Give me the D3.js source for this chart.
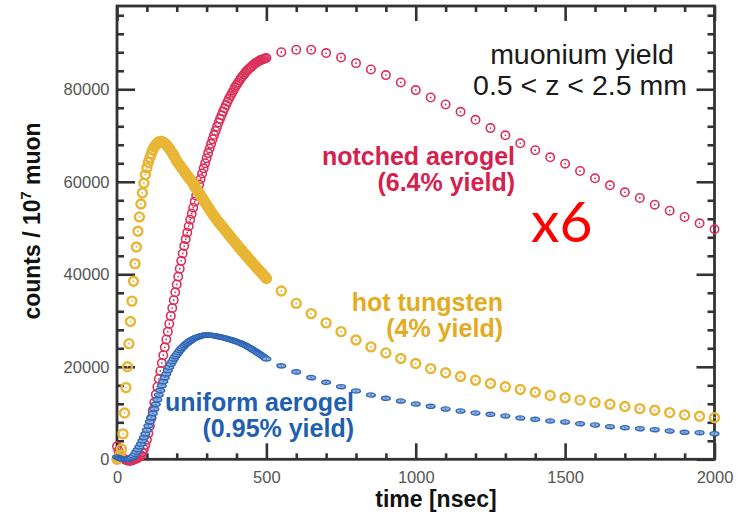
<!DOCTYPE html>
<html>
<head>
<meta charset="utf-8">
<script src="https://cdn.jsdelivr.net/npm/d3@7"></script>
<style>
  html, body { margin: 0; padding: 0; background: #fff; }
  svg { display: block; }
  text { font-family: "Liberation Sans", Arial, Helvetica, sans-serif; }
</style>
</head>
<body>
<svg id="chart" width="745" height="516"></svg>
<script>
// ---- data -------------------------------------------------------------
// fine sampling (every 5 ns) from 0 to 500 ns, coarse sampling (every 50 ns) afterwards
const fineTimes = d3.range(0, 501, 5);
const coarseTimes = d3.range(550, 2001, 50);

// notched aerogel (6.4% yield)
const notchedFine = [
  2800, 1800, 1000, 500, 200, 0, -150, -250, -300, -300,
  -250, -100, 0, 150, 300, 500, 900, 1500, 2200, 3100,
  4200, 5600, 7200, 8900, 10600, 12300, 14000, 15700, 17400, 19100,
  20800, 22500, 24200, 25900, 27600, 29300, 31000, 32700, 34400, 36100,
  37800, 39500, 41200, 42900, 44500, 46100, 47600, 49000, 50400, 51800,
  53100, 54400, 55700, 57000, 58200, 59400, 60600, 61800, 62900, 64000,
  65100, 66200, 67200, 68200, 69200, 70100, 71000, 71900, 72800, 73600,
  74400, 75200, 75900, 76600, 77300, 78000, 78600, 79200, 79800, 80400,
  80900, 81400, 81900, 82400, 82800, 83200, 83600, 84000, 84300, 84600,
  84900, 85200, 85500, 85700, 85900, 86100, 86300, 86400, 86550, 86650,
  86750
];
const notchedCoarse = [
  88000, 88540, 88540, 87820, 86870, 85650, 84270, 83060, 81460, 79820,
  78220, 76700, 75130, 73400, 71600, 70050, 68320, 66810, 65290, 63910,
  62330, 60750, 59240, 57720, 56490, 55040, 53750, 52380, 51020, 49720
];

// hot tungsten (4% yield)
const tungstenFine = [
  0, 300, 900, 2200, 5500, 10000, 15500, 20000, 25000, 29800,
  34200, 38500, 42300, 45900, 49300, 52400, 55200, 57600, 59700, 61500,
  63000, 64200, 65200, 66100, 66900, 67500, 68000, 68400, 68600, 68700,
  68700, 68550, 68300, 68000, 67600, 67200, 66700, 66200, 65700, 65100,
  64500, 64050, 63600, 63150, 62700, 62250, 61800, 61350, 60900, 60500,
  60100, 59600, 59000, 58500, 58000, 57500, 57000, 56500, 56000, 55500,
  55000, 54500, 54000, 53500, 53050, 52600, 52150, 51700, 51300, 50900,
  50500, 50100, 49700, 49300, 48900, 48500, 48100, 47700, 47300, 46900,
  46500, 46100, 45700, 45350, 44950, 44600, 44200, 43850, 43450, 43100,
  42700, 42350, 42000, 41600, 41250, 40900, 40550, 40200, 39850, 39500,
  39100
];
const tungstenCoarse = [
  36400, 33700, 31500, 29500, 27600, 25800, 24300, 23000, 21800, 20700,
  19600, 18700, 17900, 17100, 16400, 15700, 15100, 14500, 13800, 13300,
  12800, 12300, 11900, 11400, 10950, 10600, 10100, 9600, 9300, 9000
];

// uniform aerogel (0.95% yield)
const uniformFine = [
  500, 350, 200, 100, 50, 0, 0, 0, 50, 150,
  400, 700, 1100, 1600, 2100, 2700, 3300, 4000, 4700, 5500,
  6300, 7200, 8100, 9000, 9900, 10900, 11900, 12900, 13900, 14900,
  15900, 16800, 17650, 18450, 19200, 19900, 20550, 21150, 21700, 22200,
  22650, 23100, 23500, 23880, 24230, 24550, 24850, 25120, 25370, 25600,
  25810, 26000, 26170, 26320, 26450, 26560, 26660, 26740, 26800, 26850,
  26870, 26860, 26840, 26810, 26770, 26720, 26660, 26600, 26530, 26450,
  26380, 26310, 26230, 26150, 26060, 25970, 25870, 25770, 25660, 25550,
  25440, 25320, 25200, 25060, 24920, 24770, 24610, 24440, 24260, 24070,
  23880, 23680, 23480, 23270, 23060, 22840, 22620, 22400, 22170, 21940,
  21700
];
const uniformCoarse = [
  20200, 18900, 17650, 16650, 15700, 14770, 13900, 13190, 12600, 11960,
  11460, 10870, 10440, 10010, 9730, 9360, 8930, 8650, 8280, 8060,
  7700, 7420, 7050, 6830, 6620, 6400, 6120, 5840, 5750, 5530
];

const xMajorTicks = [0, 500, 1000, 1500, 2000];
const xMinorTicks = d3.range(0, 2001, 100);
const yMajorTicks = [0, 20000, 40000, 60000, 80000];
const yMinorTicks = d3.range(0, 98001, 4000);

const seriesLabels = [
  { lines: ["notched aerogel", "(6.4% yield)"], color: "#d6204d", x: 515, y: 165 },
  { lines: ["hot tungsten", "(4% yield)"], color: "#e3ab1d", x: 503, y: 311 },
  { lines: ["uniform aerogel", "(0.95% yield)"], color: "#1f5fb0", x: 354, y: 411 }
];

// ---- layout -------------------------------------------------------------
const svg = d3.select("#chart");
const plotLeft = 117, plotRight = 714.5, plotTop = 6, plotBottom = 459.3;

const x = d3.scaleLinear().domain([0, 2000]).range([plotLeft, plotRight]);
const y = d3.scaleLinear().domain([0, 98000]).range([plotBottom, plotTop]);

const axisColor = "#333";
const labelColor = "#555";

// frame
svg.append("rect")
  .attr("x", plotLeft).attr("y", plotTop)
  .attr("width", plotRight - plotLeft).attr("height", plotBottom - plotTop)
  .attr("fill", "none").attr("stroke", axisColor).attr("stroke-width", 2.8);

function styleAxis(g) {
  g.select(".domain").remove();
  g.selectAll(".tick line").attr("stroke", axisColor).attr("stroke-width", 2.6);
  g.selectAll(".tick text")
    .attr("fill", labelColor)
    .style("font-size", "16.5px")
    .style("font-family", "'Liberation Sans', Arial, sans-serif");
}

// bottom axis: labelled majors, inward ticks
svg.append("g").attr("transform", `translate(0,${plotBottom})`)
  .call(d3.axisBottom(x).tickValues(xMajorTicks).tickSize(-16).tickPadding(11.5).tickFormat(d3.format("d")))
  .call(styleAxis);
svg.append("g").attr("transform", `translate(0,${plotBottom})`)
  .call(d3.axisBottom(x).tickValues(xMinorTicks.filter(v => v % 500 !== 0)).tickSize(-6).tickFormat(""))
  .call(styleAxis);
// top axis
svg.append("g").attr("transform", `translate(0,${plotTop})`)
  .call(d3.axisTop(x).tickValues(xMajorTicks).tickSize(-15).tickFormat(""))
  .call(styleAxis);
svg.append("g").attr("transform", `translate(0,${plotTop})`)
  .call(d3.axisTop(x).tickValues(xMinorTicks.filter(v => v % 500 !== 0)).tickSize(-6).tickFormat(""))
  .call(styleAxis);
// left axis
svg.append("g").attr("transform", `translate(${plotLeft},0)`)
  .call(d3.axisLeft(y).tickValues(yMajorTicks).tickSize(-18).tickPadding(7.5).tickFormat(d3.format("d")))
  .call(styleAxis);
svg.append("g").attr("transform", `translate(${plotLeft},0)`)
  .call(d3.axisLeft(y).tickValues(yMinorTicks.filter(v => v % 20000 !== 0)).tickSize(-7).tickFormat(""))
  .call(styleAxis);
// right axis
svg.append("g").attr("transform", `translate(${plotRight},0)`)
  .call(d3.axisRight(y).tickValues(yMajorTicks).tickSize(-18).tickFormat(""))
  .call(styleAxis);
svg.append("g").attr("transform", `translate(${plotRight},0)`)
  .call(d3.axisRight(y).tickValues(yMinorTicks.filter(v => v % 20000 !== 0)).tickSize(-7).tickFormat(""))
  .call(styleAxis);

// axis titles
svg.append("text")
  .attr("x", 436).attr("y", 507)
  .attr("text-anchor", "middle")
  .attr("fill", "#111")
  .style("font-size", "23px").style("font-weight", "bold")
  .text("time [nsec]");

const yTitle = svg.append("text")
  .attr("transform", "translate(40,221) rotate(-90)")
  .attr("text-anchor", "middle")
  .attr("fill", "#111")
  .style("font-size", "23px").style("font-weight", "bold");
yTitle.append("tspan").text("counts / 10");
yTitle.append("tspan").attr("dy", -9).style("font-size", "14.5px").text("7");
yTitle.append("tspan").attr("dy", 9).text(" muon");

// ---- markers --------------------------------------------------------------
function toPoints(times, values) {
  return times.map((t, i) => ({ t, v: values[i] }));
}

function drawRings(points, color, r, sw) {
  const g = svg.append("g");
  const m = g.selectAll("g").data(points).join("g")
    .attr("transform", d => `translate(${x(d.t)},${y(d.v)})`);
  m.append("circle").attr("r", r).attr("fill", "none")
    .attr("stroke", color).attr("stroke-width", sw);
  m.append("circle").attr("r", 0.9).attr("fill", color);
}

function drawEllipses(points, color, fill) {
  const g = svg.append("g");
  const m = g.selectAll("g").data(points).join("g")
    .attr("transform", d => `translate(${x(d.t)},${y(d.v)})`);
  m.append("ellipse").attr("rx", 4.4).attr("ry", 2.1)
    .attr("fill", fill).attr("stroke", color).attr("stroke-width", 1.4);
  m.append("circle").attr("r", 0.7).attr("fill", color);
}

const notched = toPoints(fineTimes, notchedFine).concat(toPoints(coarseTimes, notchedCoarse));
const tungsten = toPoints(fineTimes, tungstenFine).concat(toPoints(coarseTimes, tungstenCoarse));
const uniform = toPoints(fineTimes, uniformFine).concat(toPoints(coarseTimes, uniformCoarse));

drawRings(notched, "#db3059", 4.2, 1.6);
drawRings(tungsten, "#e8b535", 4.5, 2.4);
drawEllipses(uniform, "#2f66b6", "#8fb0dc");

// ---- annotations ----------------------------------------------------------
seriesLabels.forEach(s => {
  const t = svg.append("text")
    .attr("text-anchor", "end")
    .attr("fill", s.color)
    .style("font-size", "25px").style("font-weight", "bold");
  s.lines.forEach((line, i) => {
    t.append("tspan").attr("x", s.x).attr("y", s.y + i * 26).text(line);
  });
});

const note = svg.append("text")
  .attr("text-anchor", "middle")
  .attr("fill", "#1a1a1a")
  .style("font-size", "28.5px");
note.append("tspan").attr("x", 582).attr("y", 64).text("muonium yield");
note.append("tspan").attr("x", 580).attr("y", 95).text("0.5 < z < 2.5 mm");

svg.append("text")
  .attr("x", 531).attr("y", 242)
  .attr("fill", "#ff0000")
  .style("font-size", "57px")
  .style("font-family", "Lato, 'Open Sans', sans-serif")
  .text("x6");
</script>
</body>
</html>
